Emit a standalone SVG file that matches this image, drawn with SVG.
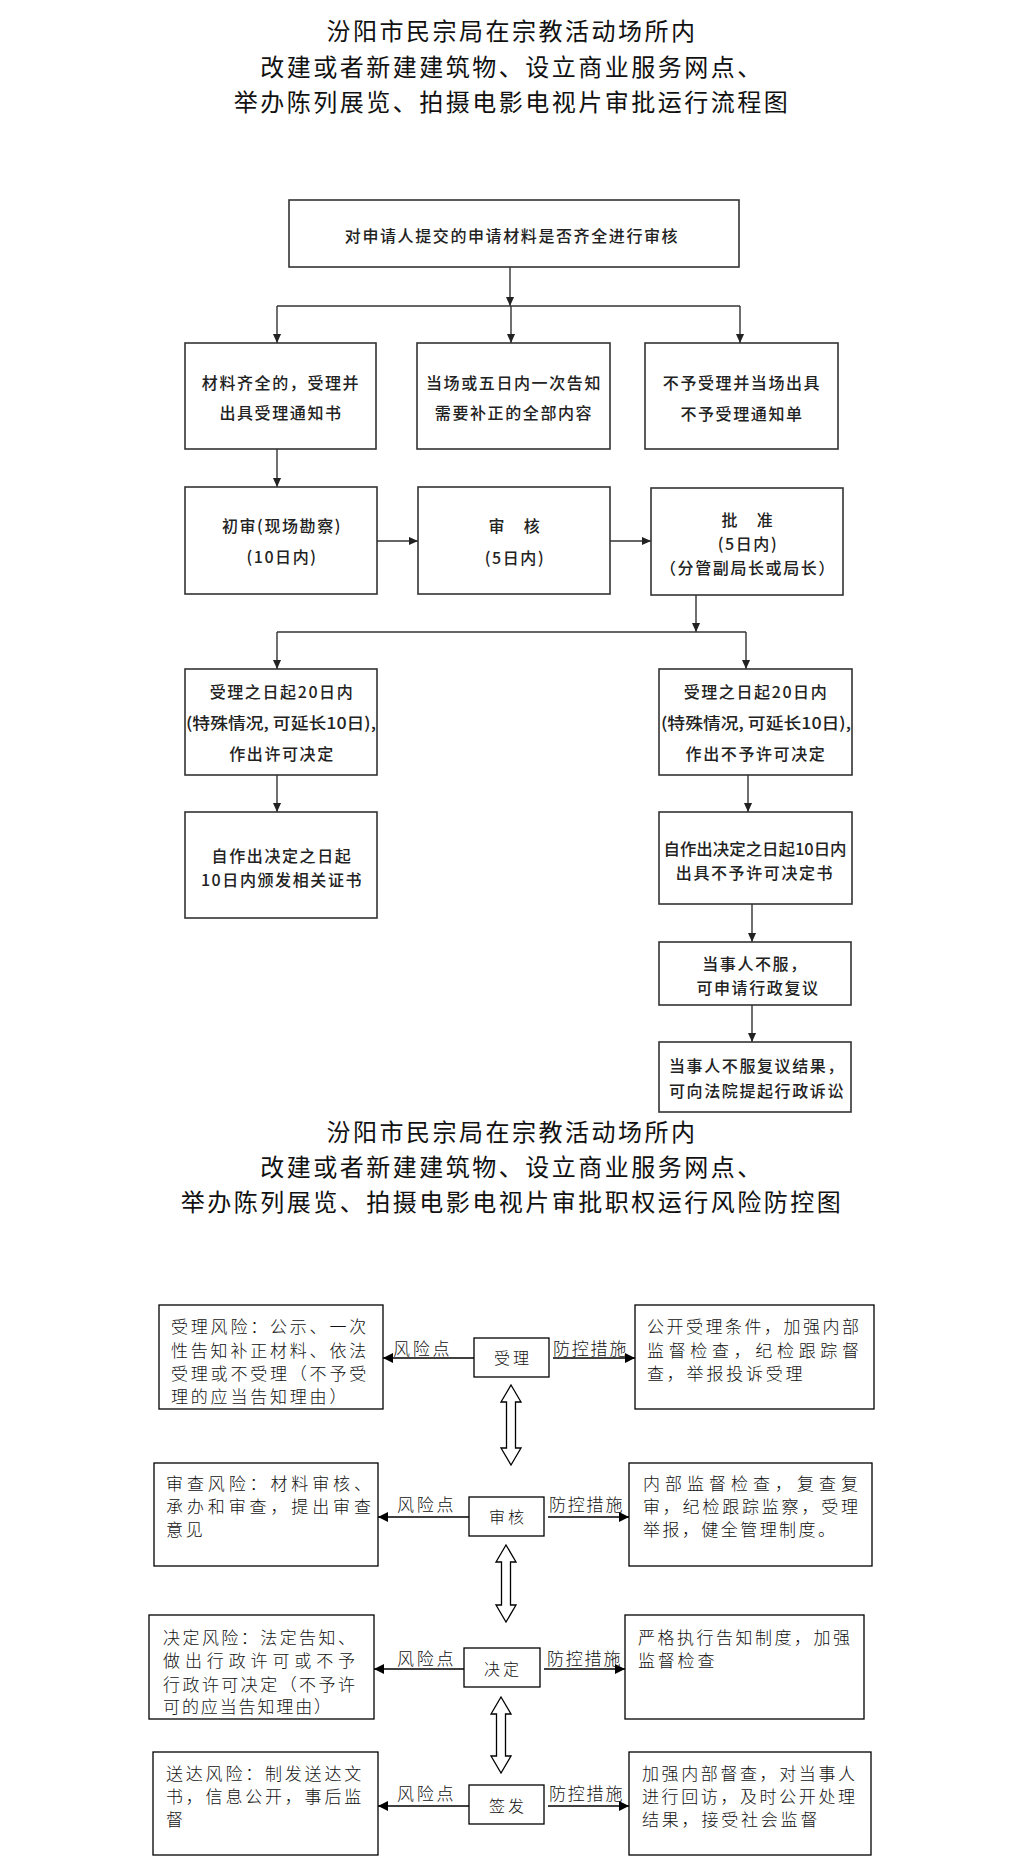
<svg xmlns="http://www.w3.org/2000/svg" width="1022" height="1871" viewBox="0 0 1022 1871">
<style>
.bg{fill:#ffffff}
.title{font-family:"Noto Sans CJK SC","Noto Sans",sans-serif;font-size:24px;letter-spacing:2.5px;fill:#111;text-anchor:middle;dominant-baseline:central}
.fbox{fill:#fff;stroke:#333;stroke-width:1.6}
.ft{font-family:"Noto Sans CJK SC","Noto Sans",sans-serif;font-size:16px;font-weight:500;fill:#222;letter-spacing:1.6px;text-anchor:middle;dominant-baseline:central}
.fc line{stroke:#333;stroke-width:1.4;fill:none}
.rbox{fill:#fff;stroke:#000;stroke-width:1.3}
.rt{font-family:"Noto Sans CJK SC","Noto Sans",sans-serif;font-size:17px;font-weight:300;fill:#111;letter-spacing:2.8px;dominant-baseline:central}
.rj{letter-spacing:0}
.ct{font-family:"Noto Sans CJK SC","Noto Sans",sans-serif;font-size:16px;font-weight:300;fill:#111;letter-spacing:3px;text-anchor:middle;dominant-baseline:central}
.lab{font-family:"Noto Sans CJK SC","Noto Sans",sans-serif;font-size:17px;font-weight:300;fill:#111;dominant-baseline:central}
.rc line{stroke:#000;stroke-width:1.4;fill:none}
.dbl{fill:#fff;stroke:#000;stroke-width:1.3}
</style>
<defs>
<marker id="ah" viewBox="0 0 10 10" refX="10" refY="5" markerWidth="9" markerHeight="9" markerUnits="userSpaceOnUse" orient="auto">
<path d="M0,0.5 L10,5 L0,9.5 z" fill="#222"/>
</marker>
<marker id="ah2" viewBox="0 0 10 10" refX="10" refY="5" markerWidth="11" markerHeight="10" markerUnits="userSpaceOnUse" orient="auto">
<path d="M0,0 L10,5 L0,10 z" fill="#000"/>
</marker>
</defs>
<rect class="bg" x="0" y="0" width="1022" height="1871"/>

<g id="title1">
<text class="title" x="512" y="29">汾阳市民宗局在宗教活动场所内</text>
<text class="title" x="512" y="65">改建或者新建建筑物、设立商业服务网点、</text>
<text class="title" x="512" y="100">举办陈列展览、拍摄电影电视片审批运行流程图</text>
</g>

<g id="flow-connectors" class="fc">
<line x1="510" y1="267" x2="510" y2="306" marker-end="url(#ah)"/>
<line x1="277" y1="306" x2="740" y2="306"/>
<line x1="277" y1="306" x2="277" y2="343" marker-end="url(#ah)"/>
<line x1="511" y1="306" x2="511" y2="343" marker-end="url(#ah)"/>
<line x1="740" y1="306" x2="740" y2="343" marker-end="url(#ah)"/>
<line x1="277" y1="449" x2="277" y2="487" marker-end="url(#ah)"/>
<line x1="377" y1="541" x2="418" y2="541" marker-end="url(#ah)"/>
<line x1="610" y1="541" x2="651" y2="541" marker-end="url(#ah)"/>
<line x1="696" y1="595" x2="696" y2="632" marker-end="url(#ah)"/>
<line x1="277" y1="632" x2="746" y2="632"/>
<line x1="277" y1="632" x2="277" y2="669" marker-end="url(#ah)"/>
<line x1="746" y1="632" x2="746" y2="669" marker-end="url(#ah)"/>
<line x1="277" y1="775" x2="277" y2="812" marker-end="url(#ah)"/>
<line x1="748" y1="775" x2="748" y2="812" marker-end="url(#ah)"/>
<line x1="752" y1="904" x2="752" y2="942" marker-end="url(#ah)"/>
<line x1="752" y1="1005" x2="752" y2="1042" marker-end="url(#ah)"/>
</g>

<g id="f-review">
<rect class="fbox" x="289" y="200" width="450" height="67"/>
<text class="ft" x="512" y="235">对申请人提交的申请材料是否齐全进行审核</text>
</g>
<g id="f-accept">
<rect class="fbox" x="185" y="343" width="191" height="106"/>
<text class="ft" x="281" y="382">材料齐全的，受理并</text>
<text class="ft" x="281" y="412">出具受理通知书</text>
</g>
<g id="f-supplement">
<rect class="fbox" x="417" y="343" width="193" height="106"/>
<text class="ft" x="514" y="382">当场或五日内一次告知</text>
<text class="ft" x="514" y="412">需要补正的全部内容</text>
</g>
<g id="f-reject">
<rect class="fbox" x="645" y="343" width="193" height="106"/>
<text class="ft" x="742" y="382">不予受理并当场出具</text>
<text class="ft" x="742" y="413">不予受理通知单</text>
</g>
<g id="f-initial">
<rect class="fbox" x="185" y="487" width="192" height="107"/>
<text class="ft" x="282" y="525">初审(现场勘察)</text>
<text class="ft" x="282" y="556">(10日内)</text>
</g>
<g id="f-audit">
<rect class="fbox" x="418" y="487" width="192" height="107"/>
<text class="ft" x="515" y="525">审　核</text>
<text class="ft" x="515" y="557">(5日内)</text>
</g>
<g id="f-approve">
<rect class="fbox" x="651" y="488" width="192" height="107"/>
<text class="ft" x="748" y="519">批　准</text>
<text class="ft" x="748" y="543">(5日内)</text>
<text class="ft" x="748" y="567">（分管副局长或局长）</text>
</g>
<g id="f-permit">
<rect class="fbox" x="185" y="669" width="192" height="106"/>
<text class="ft" x="282" y="691">受理之日起20日内</text>
<text class="ft" x="281" y="722" textLength="190" lengthAdjust="spacingAndGlyphs" style="letter-spacing:0">(特殊情况, 可延长10日),</text>
<text class="ft" x="282" y="753">作出许可决定</text>
</g>
<g id="f-deny">
<rect class="fbox" x="659" y="669" width="193" height="106"/>
<text class="ft" x="756" y="691">受理之日起20日内</text>
<text class="ft" x="756" y="722" textLength="190" lengthAdjust="spacingAndGlyphs" style="letter-spacing:0">(特殊情况, 可延长10日),</text>
<text class="ft" x="756" y="753">作出不予许可决定</text>
</g>
<g id="f-cert">
<rect class="fbox" x="185" y="812" width="192" height="106"/>
<text class="ft" x="282" y="855">自作出决定之日起</text>
<text class="ft" x="282" y="879">10日内颁发相关证书</text>
</g>
<g id="f-denydoc">
<rect class="fbox" x="659" y="812" width="193" height="92"/>
<text class="ft" x="755" y="848" textLength="183" lengthAdjust="spacingAndGlyphs" style="letter-spacing:0">自作出决定之日起10日内</text>
<text class="ft" x="755" y="872">出具不予许可决定书</text>
</g>
<g id="f-reconsider">
<rect class="fbox" x="659" y="942" width="192" height="63"/>
<text class="ft" x="755" y="963">当事人不服，</text>
<text class="ft" x="758" y="987">可申请行政复议</text>
</g>
<g id="f-lawsuit">
<rect class="fbox" x="659" y="1042" width="192" height="70"/>
<text class="ft" x="757" y="1065">当事人不服复议结果，</text>
<text class="ft" x="757" y="1090">可向法院提起行政诉讼</text>
</g>

<g id="title2">
<text class="title" x="512" y="1130">汾阳市民宗局在宗教活动场所内</text>
<text class="title" x="512" y="1165">改建或者新建建筑物、设立商业服务网点、</text>
<text class="title" x="512" y="1200">举办陈列展览、拍摄电影电视片审批职权运行风险防控图</text>
</g>

<g id="risk-connectors" class="rc">
<line x1="474" y1="1358" x2="383" y2="1358" marker-end="url(#ah2)"/>
<line x1="553" y1="1358" x2="635" y2="1358" marker-end="url(#ah2)"/>
<line x1="469" y1="1517" x2="378" y2="1517" marker-end="url(#ah2)"/>
<line x1="548" y1="1517" x2="629" y2="1517" marker-end="url(#ah2)"/>
<line x1="464" y1="1669" x2="374" y2="1669" marker-end="url(#ah2)"/>
<line x1="544" y1="1669" x2="625" y2="1669" marker-end="url(#ah2)"/>
<line x1="469" y1="1806" x2="378" y2="1806" marker-end="url(#ah2)"/>
<line x1="548" y1="1806" x2="629" y2="1806" marker-end="url(#ah2)"/>
<polygon class="dbl" points="511,1385 521,1402 515.5,1402 515.5,1448 521,1448 511,1465 501,1448 506.5,1448 506.5,1402 501,1402"/>
<polygon class="dbl" points="506,1545 516,1562 510.5,1562 510.5,1605 516,1605 506,1622 496,1605 501.5,1605 501.5,1562 496,1562"/>
<polygon class="dbl" points="501,1697 511,1714 505.5,1714 505.5,1756 511,1756 501,1773 491,1756 496.5,1756 496.5,1714 491,1714"/>
<text class="lab" x="393" y="1347" style="letter-spacing:2.8px">风险点</text>
<text class="lab" x="553" y="1347" style="letter-spacing:1.8px">防控措施</text>
<text class="lab" x="397" y="1503" style="letter-spacing:2.8px">风险点</text>
<text class="lab" x="549" y="1503" style="letter-spacing:1.8px">防控措施</text>
<text class="lab" x="397" y="1657" style="letter-spacing:2.8px">风险点</text>
<text class="lab" x="547" y="1657" style="letter-spacing:1.8px">防控措施</text>
<text class="lab" x="397" y="1792" style="letter-spacing:2.8px">风险点</text>
<text class="lab" x="549" y="1792" style="letter-spacing:1.8px">防控措施</text>
</g>

<g id="r-accept">
<rect class="rbox" x="474" y="1338" width="75" height="39"/>
<text class="ct" x="513" y="1357">受理</text>
</g>
<g id="r-accept-risk">
<rect class="rbox" x="159" y="1305" width="224" height="104"/>
<text class="rt" x="171" y="1325">受理风险：公示、一次</text>
<text class="rt" x="171" y="1349">性告知补正材料、依法</text>
<text class="rt" x="171" y="1372">受理或不受理（不予受</text>
<text class="rt" x="171" y="1395">理的应当告知理由）</text>
</g>
<g id="r-accept-ctrl">
<rect class="rbox" x="635" y="1305" width="239" height="104"/>
<text class="rt rj" x="647" y="1325" textLength="212" lengthAdjust="spacing">公开受理条件，加强内部</text>
<text class="rt rj" x="647" y="1349" textLength="212" lengthAdjust="spacing">监督检查，纪检跟踪督</text>
<text class="rt" x="647" y="1372">查，举报投诉受理</text>
</g>

<g id="r-audit">
<rect class="rbox" x="469" y="1497" width="75" height="39"/>
<text class="ct" x="508" y="1516">审核</text>
</g>
<g id="r-audit-risk">
<rect class="rbox" x="154" y="1463" width="224" height="103"/>
<text class="rt rj" x="166" y="1482" textLength="205" lengthAdjust="spacing">审查风险：材料审核、</text>
<text class="rt rj" x="166" y="1505" textLength="205" lengthAdjust="spacing">承办和审查，提出审查</text>
<text class="rt" x="166" y="1528">意见</text>
</g>
<g id="r-audit-ctrl">
<rect class="rbox" x="629" y="1463" width="243" height="103"/>
<text class="rt rj" x="643" y="1482" textLength="215" lengthAdjust="spacing">内部监督检查，复查复</text>
<text class="rt rj" x="643" y="1505" textLength="215" lengthAdjust="spacing">审，纪检跟踪监察，受理</text>
<text class="rt rj" x="643" y="1528" textLength="192" lengthAdjust="spacing">举报，健全管理制度。</text>
</g>

<g id="r-decide">
<rect class="rbox" x="464" y="1648" width="76" height="39"/>
<text class="ct" x="503" y="1668">决定</text>
</g>
<g id="r-decide-risk">
<rect class="rbox" x="149" y="1615" width="225" height="104"/>
<text class="rt rj" x="163" y="1636" textLength="192" lengthAdjust="spacing">决定风险：法定告知、</text>
<text class="rt rj" x="163" y="1659" textLength="192" lengthAdjust="spacing">做出行政许可或不予</text>
<text class="rt rj" x="163" y="1683" textLength="192" lengthAdjust="spacing">行政许可决定（不予许</text>
<text class="rt rj" x="163" y="1705" textLength="168" lengthAdjust="spacing">可的应当告知理由）</text>
</g>
<g id="r-decide-ctrl">
<rect class="rbox" x="625" y="1615" width="239" height="104"/>
<text class="rt rj" x="638" y="1636" textLength="212" lengthAdjust="spacing">严格执行告知制度，加强</text>
<text class="rt" x="638" y="1659">监督检查</text>
</g>

<g id="r-issue">
<rect class="rbox" x="469" y="1785" width="75" height="39"/>
<text class="ct" x="508" y="1805">签发</text>
</g>
<g id="r-issue-risk">
<rect class="rbox" x="153" y="1752" width="225" height="103"/>
<text class="rt" x="166" y="1772">送达风险：制发送达文</text>
<text class="rt" x="166" y="1795">书，信息公开，事后监</text>
<text class="rt" x="166" y="1818">督</text>
</g>
<g id="r-issue-ctrl">
<rect class="rbox" x="629" y="1752" width="242" height="103"/>
<text class="rt rj" x="642" y="1772" textLength="213" lengthAdjust="spacing">加强内部督查，对当事人</text>
<text class="rt rj" x="642" y="1795" textLength="213" lengthAdjust="spacing">进行回访，及时公开处理</text>
<text class="rt" x="642" y="1818">结果，接受社会监督</text>
</g>
</svg>
